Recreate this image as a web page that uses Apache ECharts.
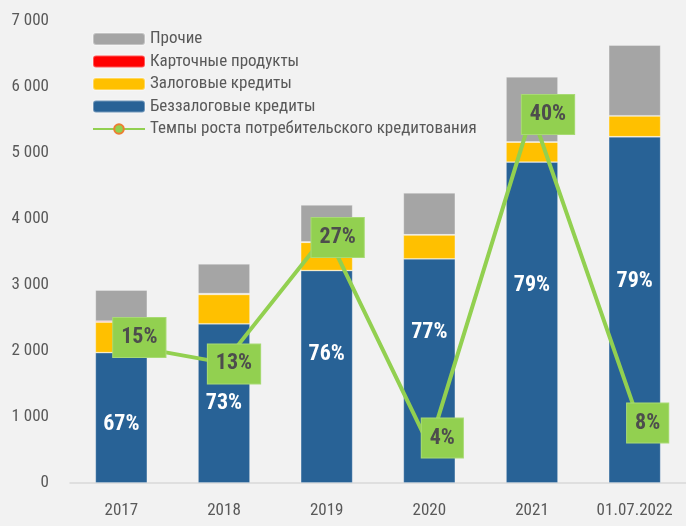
<!DOCTYPE html>
<html>
<head>
<meta charset="utf-8">
<script src="https://cdn.jsdelivr.net/npm/echarts@6/dist/echarts.min.js"></script>
<style>
  html, body { margin: 0; padding: 0; background: #f2f2f2; }
  #chart { width: 686px; height: 526px; }
</style>
</head>
<body>
<div id="chart"></div>
<script>
const years = ['2017', '2018', '2019', '2020', '2021', '01.07.2022']
const unsecured = [1975, 2412, 3219, 3396, 4863, 5246]
const secured = [462, 445, 428, 362, 302, 316]
const cards = [15, 12, 7, 3, 2, 2]
const other = [472, 451, 559, 635, 987, 1072]
const unsecuredShare = ['67%', '73%', '76%', '77%', '79%', '79%']
const growth = [15, 13, 27, 4, 40, 8]

const font = "'Roboto Condensed', 'Fira Sans Condensed', sans-serif"
const gray = '#595959'

// labels in the picture were nudged by hand
const shareShift = [7, 0, -22, -38, -37, -28]
const growthShift = [[18, -7], [10, 1], [11, 4], [13, -8], [16, 1], [13, 14]]

const bar = (name, data, color) => ({
  name, type: 'bar', stack: 'total', data, barWidth: 52,
  itemStyle: { color, borderColor: 'rgba(255,255,255,0.35)', borderWidth: 0.8 }
})

const blue = bar('Беззалоговые кредиты', unsecured.map((v, i) => ({
  value: v,
  label: { offset: [0, shareShift[i]] }
})), '#286296')
blue.label = {
  show: true, position: 'inside', color: '#fff', fontFamily: font,
  fontWeight: 'bold', fontSize: 22,
  formatter: p => unsecuredShare[p.dataIndex]
}

const option = {
  backgroundColor: '#f2f2f2',
  animation: false,
  textStyle: { fontFamily: font },
  grid: { left: 70, right: 0, top: 21, bottom: 43 },
  legend: {
    orient: 'vertical', left: 87, top: 25, itemWidth: 52, itemHeight: 12,
    itemGap: 4.5,
    textStyle: { color: gray, fontSize: 17, fontFamily: font, lineHeight: 18 },
    data: ['Прочие', 'Карточные продукты', 'Залоговые кредиты',
      'Беззалоговые кредиты', 'Темпы роста потребительского кредитования']
  },
  xAxis: {
    type: 'category', data: years,
    axisTick: { show: false },
    axisLine: { lineStyle: { color: '#d9d9d9', width: 1.5 } },
    axisLabel: { color: gray, fontSize: 17, margin: 19, fontFamily: font, interval: 0 }
  },
  yAxis: [{
    type: 'value', min: 0, max: 7000, interval: 1000,
    splitLine: { show: false },
    axisLabel: {
      color: gray, fontSize: 17, margin: 21, fontFamily: font,
      formatter: v => String(v).replace(/\B(?=(\d{3})+(?!\d))/g, ' ')
    }
  }, {
    type: 'value', min: 0, max: 50, show: false, splitLine: { show: false }
  }],
  series: [
    blue,
    bar('Залоговые кредиты', secured, '#ffc000'),
    bar('Карточные продукты', cards, '#ff0000'),
    bar('Прочие', other, '#a5a5a5'),
    {
      name: 'Темпы роста потребительского кредитования',
      type: 'line', yAxisIndex: 1, z: 5,
      data: growth.map((v, i) => ({ value: v, label: { offset: growthShift[i] } })),
      symbol: 'circle', symbolSize: 10,
      lineStyle: { color: '#92d050', width: 4 },
      itemStyle: { color: '#92d050', borderColor: '#ed7d31', borderWidth: 2 },
      label: {
        show: true, position: 'inside',
        formatter: '{c}%', color: '#4d4d4d', fontFamily: font,
        fontWeight: 'bold', fontSize: 22,
        backgroundColor: '#92d050', borderColor: '#a8da74', borderWidth: 1,
        padding: [9, 8, 8, 8]
      }
    }
  ]
}

const myChart = echarts.init(document.getElementById('chart'))
myChart.setOption(option)
</script>
</body>
</html>
